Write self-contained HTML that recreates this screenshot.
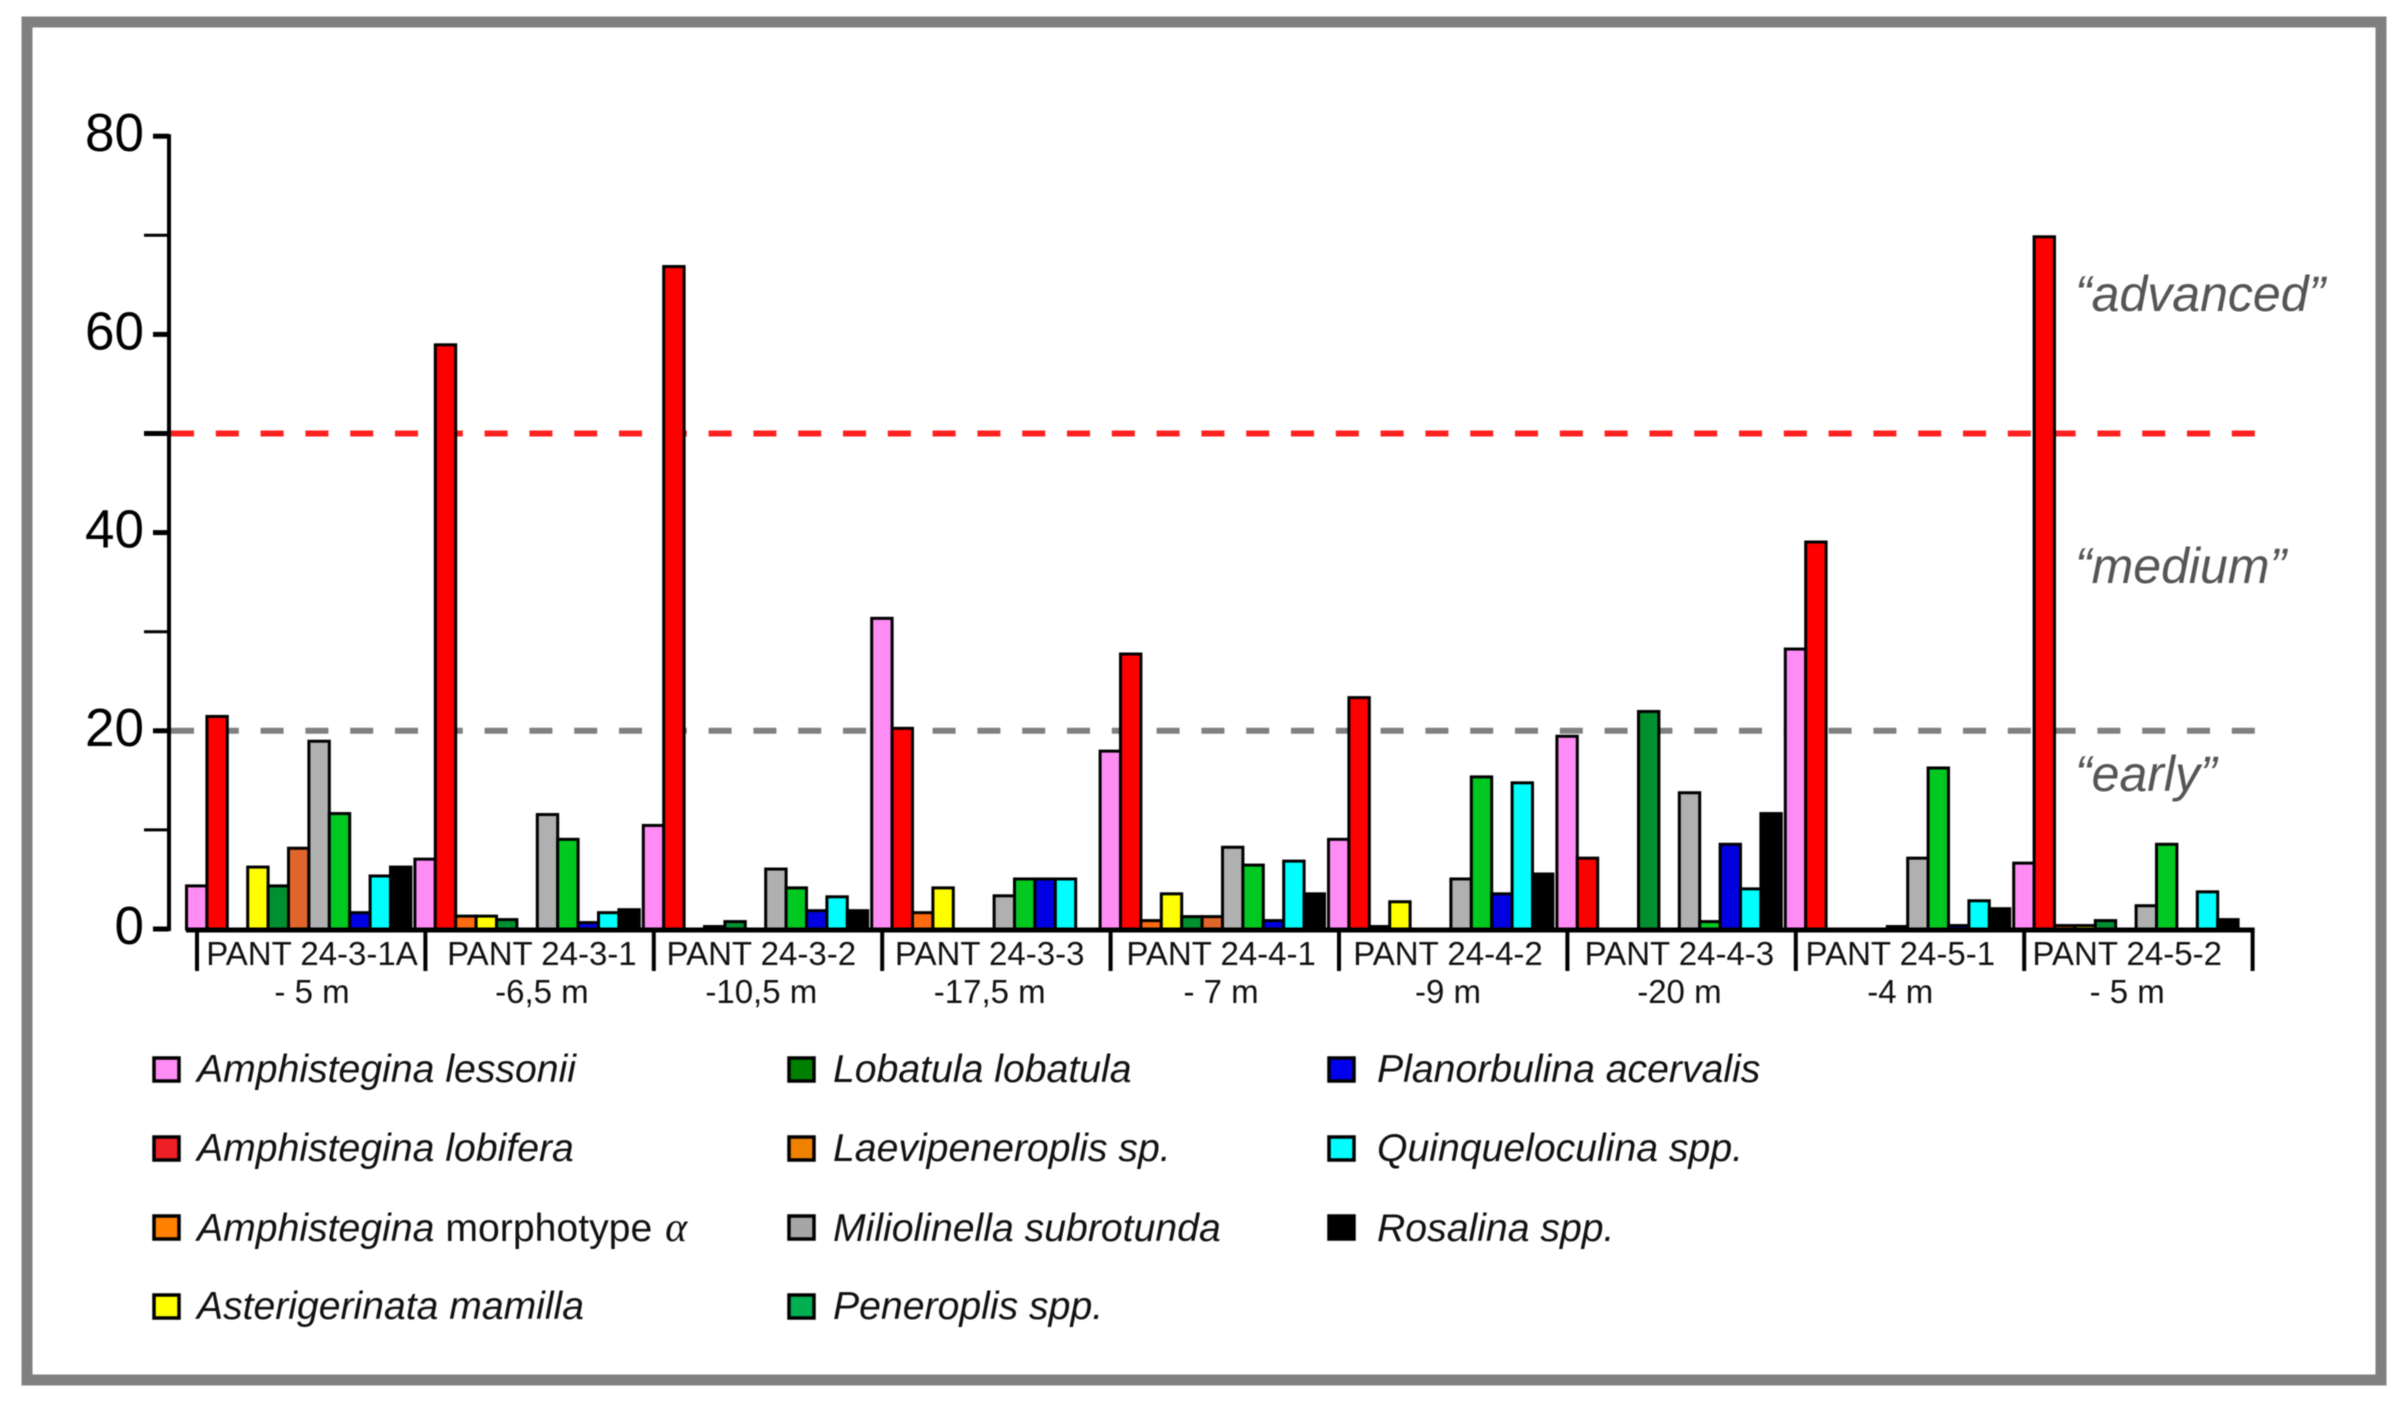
<!DOCTYPE html>
<html lang="en">
<head>
<meta charset="utf-8">
<title>Foraminifera abundance by sample</title>
<style>
html,body{margin:0;padding:0;background:#fff;width:2407px;height:1401px;overflow:hidden}
svg{display:block;font-family:"Liberation Sans",sans-serif;filter:blur(0.6px)}
.leg{font-size:39.2px;font-style:italic;fill:#111}
.ann{font-size:50px;font-style:italic;fill:#555}
.sw{stroke:#000;stroke-width:3.5}
</style>
</head>
<body>
<svg id="chart" width="2407" height="1401" viewBox="0 0 2407 1401" xmlns="http://www.w3.org/2000/svg">
  <rect x="0" y="0" width="2407" height="1401" fill="#fff"/>
  <rect x="27" y="22" width="2354" height="1358" fill="#fff" stroke="#808080" stroke-width="11"/>
  <g id="plot"></g>

  <text class="ann" x="2075" y="311">“advanced”</text>
  <text class="ann" x="2075" y="583">“medium”</text>
  <text class="ann" x="2075" y="791">“early”</text>

  <g>
    <g><rect class="sw" x="154" y="1058" width="25" height="23" fill="#ff8cf5"/><text class="leg" x="197" y="1082">Amphistegina lessonii</text></g>
    <g><rect class="sw" x="154" y="1137" width="25" height="23" fill="#ee2026"/><text class="leg" x="197" y="1161">Amphistegina lobifera</text></g>
    <g><rect class="sw" x="154" y="1216" width="25" height="23" fill="#ff7f00"/><text class="leg" x="197" y="1241">Amphistegina <tspan font-style="normal">morphotype</tspan> <tspan dx="2" font-family="Liberation Serif" font-size="42">α</tspan></text></g>
    <g><rect class="sw" x="154" y="1295" width="25" height="23" fill="#ffff00"/><text class="leg" x="197" y="1319" textLength="387" lengthAdjust="spacingAndGlyphs">Asterigerinata mamilla</text></g>

    <g><rect class="sw" x="789" y="1058" width="25" height="23" fill="#008000"/><text class="leg" x="833" y="1082">Lobatula lobatula</text></g>
    <g><rect class="sw" x="789" y="1137" width="25" height="23" fill="#f08000"/><text class="leg" x="833" y="1161">Laevipeneroplis sp.</text></g>
    <g><rect class="sw" x="789" y="1216" width="25" height="23" fill="#a6a6a6"/><text class="leg" x="833" y="1241">Miliolinella subrotunda</text></g>
    <g><rect class="sw" x="789" y="1295" width="25" height="23" fill="#00b050"/><text class="leg" x="833" y="1319">Peneroplis spp.</text></g>

    <g><rect class="sw" x="1335" y="1058" width="25" height="23" fill="#0000ee" transform="translate(-6 0)"/><text class="leg" x="1377" y="1082">Planorbulina acervalis</text></g>
    <g><rect class="sw" x="1335" y="1137" width="25" height="23" fill="#00ffff" transform="translate(-6 0)"/><text class="leg" x="1377" y="1161">Quinqueloculina spp.</text></g>
    <g><rect class="sw" x="1335" y="1216" width="25" height="23" fill="#000" transform="translate(-6 0)"/><text class="leg" x="1377" y="1241">Rosalina spp.</text></g>
  </g>
</svg>
<script>
// Data
const sampleNames = ["PANT 24-3-1A","PANT 24-3-1","PANT 24-3-2","PANT 24-3-3","PANT 24-4-1","PANT 24-4-2","PANT 24-4-3","PANT 24-5-1","PANT 24-5-2"];
const sampleDepths = ["- 5 m","-6,5 m","-10,5 m","-17,5 m","- 7 m","-9 m","-20 m","-4 m","- 5 m"];
const speciesKeys = ["amphistegina-lessonii","amphistegina-lobifera","amphistegina-morphotype","asterigerinata-mamilla","lobatula-lobatula","laevipeneroplis","miliolinella-subrotunda","peneroplis","planorbulina-acervalis","quinqueloculina","rosalina"];
const amphisteginaLessonii  = [4.4, 7.1, 10.5, 31.4, 18.0, 9.1, 19.5, 28.3, 6.7];
const amphisteginaLobifera  = [21.5, 59.0, 66.9, 20.3, 27.8, 23.4, 7.2, 39.1, 69.9];
const amphisteginaMorphotype= [0, 1.35, 0, 1.7, 0.9, 0.3, 0, 0, 0.4];
const asterigerinataMamilla = [6.3, 1.35, 0.3, 4.2, 3.6, 2.8, 0, 0, 0.4];
const lobatulaLobatula      = [4.4, 1.0, 0.8, 0, 1.3, 0, 22.0, 0, 0.9];
const laevipeneroplis       = [8.2, 0, 0, 0, 1.3, 0, 0, 0.3, 0];
const miliolinellaSubrotunda= [19.0, 11.6, 6.1, 3.4, 8.3, 5.1, 13.8, 7.2, 2.4];
const peneroplis            = [11.7, 9.1, 4.2, 5.1, 6.5, 15.4, 0.8, 16.3, 8.6];
const planorbulinaAcervalis = [1.7, 0.7, 1.9, 5.1, 0.9, 3.6, 8.6, 0.4, 0];
const quinqueloculina       = [5.4, 1.7, 3.3, 5.1, 6.9, 14.8, 4.1, 2.9, 3.8];
const rosalina              = [6.3, 2.0, 1.9, 0, 3.6, 5.6, 11.7, 2.1, 1.0];
const majorTickValues = [0, 20, 40, 60, 80];
const minorTickValues = [10, 30, 50, 70];
const thresholdValues = [20, 50];

const seriesValues = [amphisteginaLessonii, amphisteginaLobifera, amphisteginaMorphotype, asterigerinataMamilla, lobatulaLobatula, laevipeneroplis, miliolinellaSubrotunda, peneroplis, planorbulinaAcervalis, quinqueloculina, rosalina];
const speciesFill = ["#ff8cf5","#ff0000","#ff6a10","#ffff00","#009030","#e0652a","#b0b0b0","#00c820","#0000e0","#00ffff","#000000"];

// Axis functions
const Y0 = 929, UNIT = 9.91;
const GROUP0 = 186, GROUP_STEP = 228.4, SLOT = 20.4;
const SEP0 = 197, LABEL0 = 312, LABEL_STEP = 226.9;
// Hand-placed label offsets of the original figure (layout only)
const labelShift = [0, 3, -4.5, -3, 1.5, 1.5, 6, 0, 0];
function yScale(v){ return Y0 - v * UNIT; }
function xScale(g, s){ return GROUP0 + g * GROUP_STEP + s * SLOT; }
function sepScale(g){ return SEP0 + g * GROUP_STEP; }
function labelScale(g){ return LABEL0 + g * LABEL_STEP + labelShift[g]; }

const NS = "http://www.w3.org/2000/svg";
const plot = document.getElementById("plot");
function make(tag, attrs, parent){
  const el = document.createElementNS(NS, tag);
  for (const k in attrs) el.setAttribute(k, attrs[k]);
  (parent || plot).appendChild(el);
  return el;
}

// Threshold dashed lines
thresholdValues.forEach(function(v){
  const line = make("line", {x1:171, x2:2255, y1:yScale(v), y2:yScale(v), stroke: v === 50 ? "#ff2020" : "#808080", "stroke-width":6, "stroke-dasharray":"23 21.8"});
  
  
});

// Bars
seriesValues.forEach(function(values, s){
  values.forEach(function(v, g){
    if (!v) return;
    const top = yScale(v) + 0.5;
    const bar = make("rect", {x:xScale(g, s) + 0.5, y:top, width:SLOT, height:Math.max(Y0 - top, 0.5), fill:speciesFill[s], stroke:"#000", "stroke-width":3});
    
    
  });
});

// Y axis
const yAxis = make("line", {x1:169, x2:169, y1:yScale(80) - 2, y2:Y0 + 2, stroke:"#000", "stroke-width":4});


majorTickValues.forEach(function(v){
  const tick = make("line", {x1:153, x2:169, y1:yScale(v), y2:yScale(v), stroke:"#000", "stroke-width":5});
  
  
  const label = make("text", {x:144, y:yScale(v) + 15, "text-anchor":"end", "font-size":54, fill:"#000", textLength: String(v).length * 29.5, lengthAdjust:"spacingAndGlyphs"});
  label.textContent = String(v);
  
  
});
minorTickValues.forEach(function(v){
  const tick = make("line", {x1:144, x2:169, y1:yScale(v), y2:yScale(v), stroke:"#000", "stroke-width": v === 50 ? 5 : 3});
  
  
});

// X axis
const xAxis = make("line", {x1:GROUP0, x2:sepScale(sampleNames.length) + 2, y1:Y0 + 1, y2:Y0 + 1, stroke:"#000", "stroke-width":5});


for (let g = 0; g <= sampleNames.length; g++){
  const sep = make("line", {x1:sepScale(g), x2:sepScale(g), y1:Y0, y2:971, stroke:"#000", "stroke-width":4});
  
  
}
sampleNames.forEach(function(name, g){
  const l1 = make("text", {x:labelScale(g), y:965, "text-anchor":"middle", "font-size":33, fill:"#111"});
  l1.textContent = name;
  
  
  const l2 = make("text", {x:labelScale(g), y:1003, "text-anchor":"middle", "font-size":33, fill:"#111"});
  l2.textContent = sampleDepths[g];
  
  
});
</script>
</body>
</html>
